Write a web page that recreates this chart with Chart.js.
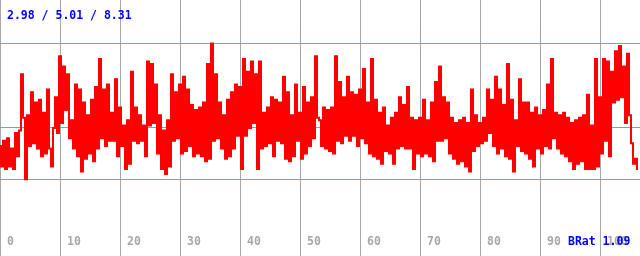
<!DOCTYPE html>
<html>
<head>
<meta charset="utf-8">
<script src="https://cdn.jsdelivr.net/npm/chart.js@4/dist/chart.umd.min.js"></script>
<style>
  body { margin: 0; background: #fff; }
  #wrap { width: 640px; height: 256px; position: relative; }
</style>
</head>
<body>
<div id="wrap"><canvas id="brat-chart"></canvas></div>
<script>
// samples (10 x-units = 30 samples)
const sampleStep = 1 / 3;
const seriesValues = [
  // 0 - 20
  4.3, 3.5, 4.5, 3.4, 4.6, 3.5, 4.2, 3.4, 4.8, 3.9, 4.9, 7.1, 5.4, 3.0, 5.5, 4.3,
  6.4, 4.4, 6.0, 4.2, 6.1, 3.9, 5.6, 4.0, 6.5, 4.2, 3.5, 5.0, 6.2, 4.8, 7.8, 5.2,
  7.4, 5.7, 7.1, 4.6, 5.3, 4.2, 6.7, 3.9, 6.5, 3.3, 6.0, 3.8, 5.5, 4.0, 6.1, 3.7,
  6.6, 4.2, 7.7, 4.6, 6.5, 4.3, 6.7, 4.5, 5.6, 4.5, 6.9, 3.9, 5.8, 4.3, 5.1, 3.4,
  // 21 - 42
  5.3, 3.6, 7.2, 4.5, 5.8, 4.4, 5.5, 4.5, 5.1, 3.9, 7.6, 5.1, 7.5, 5.2, 6.7, 4.0,
  5.5, 3.4, 4.9, 3.2, 5.3, 3.5, 7.1, 4.5, 6.4, 4.6, 6.7, 4.0, 7.0, 4.1, 6.5, 4.3,
  5.9, 3.9, 5.7, 4.0, 5.8, 3.9, 6.0, 3.7, 7.5, 3.8, 8.3, 4.5, 7.1, 4.6, 6.0, 4.2,
  5.5, 3.8, 6.1, 3.9, 6.4, 4.2, 6.7, 4.7, 6.6, 3.4, 7.7, 4.7, 7.2, 5.0, 7.6, 5.2,
  // 43 - 64
  7.1, 3.4, 7.6, 4.2, 5.6, 4.3, 5.8, 4.4, 6.2, 3.9, 6.1, 4.5, 6.0, 4.4, 7.0, 3.8,
  6.4, 3.7, 5.5, 3.9, 6.7, 4.5, 5.6, 3.8, 6.6, 4.0, 6.0, 4.3, 6.2, 4.6, 7.8, 5.4,
  5.3, 4.3, 5.8, 4.2, 5.7, 4.1, 5.8, 4.0, 7.8, 4.5, 6.8, 4.4, 6.2, 4.7, 7.0, 4.5,
  6.4, 4.7, 6.3, 4.3, 6.5, 4.6, 7.3, 4.4, 6.0, 4.0, 7.7, 3.9, 6.1, 3.8, 5.6, 3.6,
  // 64 - 85
  5.8, 4.1, 5.1, 4.0, 5.4, 3.6, 5.6, 4.2, 6.2, 4.3, 5.9, 4.2, 6.6, 4.2, 5.4, 3.4,
  5.3, 4.0, 5.4, 3.9, 6.1, 4.0, 5.3, 3.9, 6.0, 3.7, 6.8, 4.5, 7.4, 4.5, 6.2, 4.6,
  6.0, 4.0, 5.4, 3.8, 5.2, 3.6, 5.3, 3.7, 5.4, 3.5, 5.2, 3.3, 6.5, 4.1, 5.5, 4.3,
  5.2, 4.4, 5.4, 4.5, 6.5, 4.8, 6.1, 4.3, 7.0, 4.0, 6.5, 4.2, 5.9, 3.9, 7.5, 3.8,
  // 85 - 106
  6.1, 3.3, 5.3, 4.3, 6.9, 4.1, 6.0, 4.0, 6.0, 3.8, 5.6, 3.5, 5.8, 4.2, 5.5, 4.0,
  5.7, 4.3, 6.7, 4.2, 7.7, 4.6, 5.6, 4.2, 5.5, 4.0, 5.6, 3.9, 5.4, 3.7, 5.2, 3.4,
  5.3, 3.6, 5.4, 3.7, 5.5, 3.4, 6.3, 3.4, 5.1, 3.4, 7.7, 3.5, 6.2, 4.0, 7.7, 4.5,
  7.6, 3.9, 7.2, 6.0, 8.0, 6.1, 8.2, 6.2, 7.4, 5.2, 7.9, 5.5, 4.4, 3.6, 3.8, 3.4
];
const refLines = [2.98, 5.01, 8.31];          // min / mean / max
const xTickValues = [0, 10, 20, 30, 40, 50, 60, 70, 80, 90, 100];
const headerText = '2.98 / 5.01 / 8.31';
const ratioText = 'BRat 1.09';

const monoFont = 'bold 11.5px "DejaVu Sans Mono", "Liberation Mono", monospace';

const points = seriesValues.map((v, i) => ({ x: i * sampleStep, y: v }));

const textPlugin = {
  id: 'textPlugin',
  afterDraw(chart) {
    const ctx = chart.ctx;
    const xScale = chart.scales.x;
    ctx.save();
    ctx.font = monoFont;
    ctx.textBaseline = 'alphabetic';
    ctx.textAlign = 'left';
    ctx.fillStyle = '#a8a8a8';
    xTickValues.forEach(v => {
      ctx.fillText(String(v), xScale.getPixelForValue(v) + 7, 245);
    });
    ctx.fillStyle = '#0000ff';
    ctx.fillText(headerText, 7, 19);
    ctx.fillText(ratioText, 568, 245);
    ctx.restore();
  }
};

new Chart(document.getElementById('brat-chart').getContext('2d'), {
  type: 'line',
  data: {
    datasets: [{
      data: points,
      borderColor: '#ff0000',
      borderWidth: 2,
      stepped: 'middle',
      pointRadius: 0,
      fill: false
    }]
  },
  options: {
    responsive: true,
    maintainAspectRatio: false,
    animation: false,
    layout: { padding: 0 },
    plugins: {
      legend: { display: false },
      tooltip: { enabled: false }
    },
    scales: {
      x: {
        type: 'linear',
        min: 0,
        max: 640 / 6,
        z: 1,
        afterBuildTicks: axis => { axis.ticks = xTickValues.map(v => ({ value: v })); },
        ticks: { display: false },
        border: { display: false },
        grid: { color: '#a8a8a8', lineWidth: 1, drawTicks: false }
      },
      y: {
        min: 0,
        max: 10,
        z: 1,
        afterBuildTicks: axis => { axis.ticks = refLines.map(v => ({ value: v })); },
        ticks: { display: false },
        border: { display: false },
        grid: { color: '#70a0e0', lineWidth: 1, drawTicks: false }
      }
    }
  },
  plugins: [textPlugin]
});
</script>
</body>
</html>
